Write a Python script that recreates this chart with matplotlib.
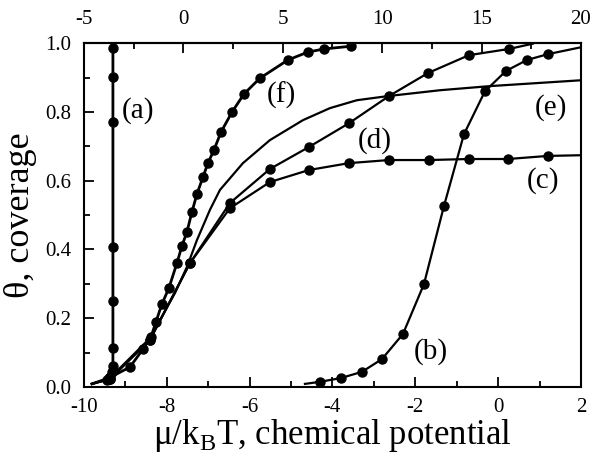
import numpy as np
import matplotlib.pyplot as plt
from matplotlib.ticker import MultipleLocator, FixedLocator

plt.rcParams['font.family'] = ['Liberation Serif', 'DejaVu Serif']
plt.rcParams['mathtext.fontset'] = 'custom'
plt.rcParams['mathtext.rm'] = 'Liberation Serif'
plt.rcParams['axes.unicode_minus'] = False

# curve (a): nearly vertical
a_x = [-9.445, -9.372, -9.324, -9.30, -9.30, -9.30, -9.30, -9.30, -9.30, -9.30]
a_y = [0.020, 0.029, 0.044, 0.061, 0.113, 0.250, 0.407, 0.770, 0.901, 0.985]

# curve (f)
f_x = [-9.396, -8.889, -8.575, -8.382, -8.262, -8.117, -7.948, -7.755, -7.634, -7.513,
       -7.392, -7.272, -7.127, -7.006, -6.861, -6.692, -6.427, -6.137, -5.751, -5.075,
       -4.592, -4.205, -3.554]
f_y = [0.026, 0.058, 0.110, 0.145, 0.189, 0.241, 0.288, 0.360, 0.410, 0.451,
       0.509, 0.561, 0.610, 0.651, 0.689, 0.741, 0.799, 0.852, 0.898, 0.951,
       0.974, 0.983, 0.991]

# curve (c)
c_x = [-9.372, -8.406, -7.441, -6.475, -5.509, -4.567, -3.602, -2.636, -1.670, -0.704, 0.237, 1.203]
c_y = [0.023, 0.137, 0.360, 0.520, 0.596, 0.631, 0.651, 0.660, 0.660, 0.663, 0.663, 0.672]

# curve (d)
d_x = [-9.372, -8.406, -7.441, -6.475, -5.509, -4.567, -3.602, -2.636, -1.694, -0.704, 0.261]
d_y = [0.023, 0.137, 0.360, 0.535, 0.634, 0.698, 0.767, 0.846, 0.913, 0.965, 0.983]

# curve (e): no symbols
e_x = [-9.807, -9.372, -8.406, -7.803, -7.513, -7.272, -6.958, -6.716, -6.161, -5.509,
       -4.712, -4.060, -3.409, -2.660, -1.405, -0.197, 2.0]
e_y = [0.009, 0.026, 0.142, 0.273, 0.349, 0.427, 0.515, 0.573, 0.651, 0.718,
       0.776, 0.811, 0.834, 0.846, 0.863, 0.875, 0.892]

# curve (b)
b_x = [-4.302, -3.795, -3.288, -2.805, -2.298, -1.791, -1.308, -0.825, -0.318, 0.189, 0.696, 1.203]
b_y = [0.015, 0.026, 0.044, 0.081, 0.154, 0.299, 0.526, 0.735, 0.860, 0.919, 0.951, 0.968]

# line ends without symbols
start_x, start_y = -9.807, 0.009
c_end = (2.0, 0.674)
d_end = (0.841, 0.9985)
b_start = (-4.664, 0.009)
b_end = (2.0, 0.988)

top_ticks = [-5, 0, 5, 10, 15, 20]

fig = plt.figure(figsize=(5.91, 4.54), dpi=100)
ax = fig.add_axes([0.142, 0.1476, 0.841, 0.7574])

lw = 1.6
ms = 6.5
ax.plot(a_x, a_y, 'k-', lw=2.0)
ax.plot(a_x, a_y, 'ko', ms=ms)

ax.plot([start_x] + f_x, [start_y] + f_y, 'k-', lw=2.0)
ax.plot(f_x, f_y, 'ko', ms=ms)

ax.plot([start_x] + c_x + [c_end[0]], [start_y] + c_y + [c_end[1]], 'k-', lw=lw)
ax.plot(c_x, c_y, 'ko', ms=ms)

ax.plot([start_x] + d_x + [d_end[0]], [start_y] + d_y + [d_end[1]], 'k-', lw=lw)
ax.plot(d_x, d_y, 'ko', ms=ms)

ax.plot(e_x, e_y, 'k-', lw=lw)

ax.plot([b_start[0]] + b_x + [b_end[0]], [b_start[1]] + b_y + [b_end[1]], 'k-', lw=lw)
ax.plot(b_x, b_y, 'ko', ms=ms)

lab_fs = 21
ax.text(-8.70, 0.805, '(a)', fontsize=lab_fs, ha='center', va='center')
ax.text(-1.62, 0.102, '(b)', fontsize=lab_fs, ha='center', va='center')
ax.text(1.08, 0.599, '(c)', fontsize=lab_fs, ha='center', va='center')
ax.text(-2.97, 0.718, '(d)', fontsize=lab_fs, ha='center', va='center')
ax.text(1.27, 0.814, '(e)', fontsize=lab_fs, ha='center', va='center')
ax.text(-5.24, 0.849, '(f)', fontsize=lab_fs, ha='center', va='center')

ax.set_xlim(-10, 2)
ax.set_ylim(0, 1.0)
ax.xaxis.set_major_locator(MultipleLocator(2))
ax.xaxis.set_minor_locator(MultipleLocator(1))
ax.yaxis.set_major_locator(MultipleLocator(0.2))
ax.yaxis.set_minor_locator(MultipleLocator(0.1))
ax.yaxis.set_major_formatter(plt.FormatStrFormatter('%.1f'))
ax.tick_params(which='both', direction='in', labelsize=15, width=1.3)
ax.tick_params(which='major', length=7)
ax.tick_params(which='minor', length=4)
ax.tick_params(axis='x', which='major', pad=8)
ax.tick_params(axis='y', which='major', pad=9)
for s in ax.spines.values():
    s.set_linewidth(1.5)

def to_top(x):
    return (np.asarray(x) + 10) * 25 / 12 - 5

def to_bottom(t):
    return (np.asarray(t) + 5) * 12 / 25 - 10

top = ax.secondary_xaxis('top', functions=(to_top, to_bottom))
top.xaxis.set_major_locator(FixedLocator(top_ticks))
top.xaxis.set_minor_locator(FixedLocator([-2.5, 2.5, 7.5, 12.5, 17.5]))
top.tick_params(which='both', direction='in', labelsize=15, width=1.3)
top.tick_params(which='major', length=7, pad=10)
top.tick_params(which='minor', length=4)
top.spines['top'].set_linewidth(1.5)

ax.set_xlabel(r'μ/k$_\mathregular{B}$T, chemical potential', fontsize=25, labelpad=0)
ax.set_ylabel('θ, coverage', fontsize=26, labelpad=6)

fig.savefig('out.png', dpi=100)
